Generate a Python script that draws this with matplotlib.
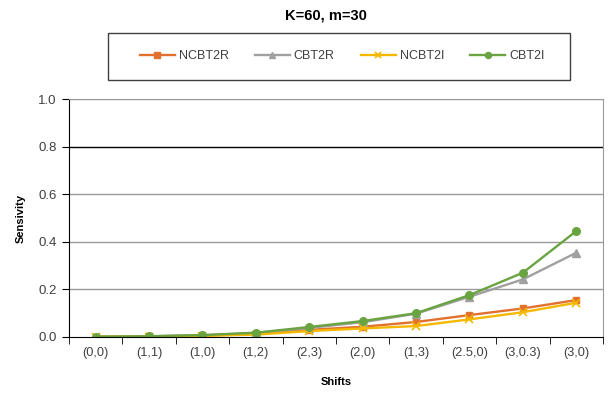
import numpy as np
import matplotlib
matplotlib.use('Agg')
import matplotlib.pyplot as plt
from matplotlib.patches import Rectangle

plt.rcParams['font.family'] = ['Liberation Sans', 'DejaVu Sans']

# values
shifts = ['(0,0)', '(1,1)', '(1,0)', '(1,2)', '(2,3)', '(2,0)', '(1,3)', '(2.5,0)', '(3,0.3)', '(3,0)']
ncbt2r = [0.001, 0.003, 0.006, 0.013, 0.030, 0.043, 0.063, 0.092, 0.120, 0.155]
cbt2r = [0.001, 0.003, 0.007, 0.017, 0.038, 0.062, 0.098, 0.169, 0.242, 0.354]
ncbt2i = [0.001, 0.002, 0.005, 0.010, 0.025, 0.036, 0.046, 0.074, 0.104, 0.144]
cbt2i = [0.001, 0.003, 0.008, 0.018, 0.042, 0.067, 0.100, 0.176, 0.270, 0.445]
yticks = [0.0, 0.2, 0.4, 0.6, 0.8, 1.0]

fig = plt.figure(figsize=(6.1, 3.94), dpi=100)
ax = fig.add_axes([0.113, 0.1447, 0.8755, 0.604])

x = np.arange(len(shifts))
ax.plot(x, ncbt2r, color='#E2712F', marker='s', markersize=5, linewidth=1.7, label='NCBT2R')
ax.plot(x, cbt2r, color='#A0A0A0', marker='^', markersize=6, linewidth=1.7, label='CBT2R')
ax.plot(x, ncbt2i, color='#F5B800', marker='x', markersize=6, markeredgewidth=1.2, linewidth=1.7, label='NCBT2I')
ax.plot(x, cbt2i, color='#6AA442', marker='o', markersize=5.5, linewidth=1.7, label='CBT2I')

ax.set_xlim(-0.5, len(shifts) - 0.5)
ax.set_ylim(0, 1.0)
ax.set_yticks(yticks)
ax.set_yticklabels([f'{v:.1f}' for v in yticks], fontsize=9.5, color='#404040')
for v in yticks[1:]:
    col = 'black' if v == 0.8 else '#9a9a9a'
    ax.axhline(v, color=col, linewidth=1, zorder=0)

# category labels centred, ticks between categories
ax.set_xticks(x)
ax.set_xticklabels(shifts, fontsize=9.2, color='#404040')
ax.tick_params(axis='x', which='major', length=0, pad=7)
ax.set_xticks(np.arange(-0.5, len(shifts)), minor=True)
ax.tick_params(axis='x', which='minor', length=5, direction='out', color='black')
ax.tick_params(axis='y', length=5, direction='out', color='black', pad=4)

for side in ['top', 'right']:
    ax.spines[side].set_color('#9a9a9a')
for side in ['left', 'bottom']:
    ax.spines[side].set_color('black')

ax.set_xlabel('Shifts', fontsize=8, fontweight='bold', labelpad=13)
ax.set_ylabel('Sensivity', fontsize=8, fontweight='bold', labelpad=9)

fig.text(0.535, 0.96, 'K=60, m=30', ha='center', va='center', fontsize=10.5, fontweight='bold')

# legend box drawn separately, Excel style with wide side padding
fig.patches.append(Rectangle((0.177, 0.797), 0.757, 0.119, transform=fig.transFigure,
                             fill=False, edgecolor='#404040', linewidth=1))
leg = fig.legend(loc='center', bbox_to_anchor=(0.561, 0.857), ncol=4, frameon=False,
                 fontsize=9, handlelength=2.8, handletextpad=0.3, columnspacing=2.1,
                 markerscale=0.8)
for t in leg.get_texts():
    t.set_color('#404040')

fig.savefig('out.png', dpi=100)
